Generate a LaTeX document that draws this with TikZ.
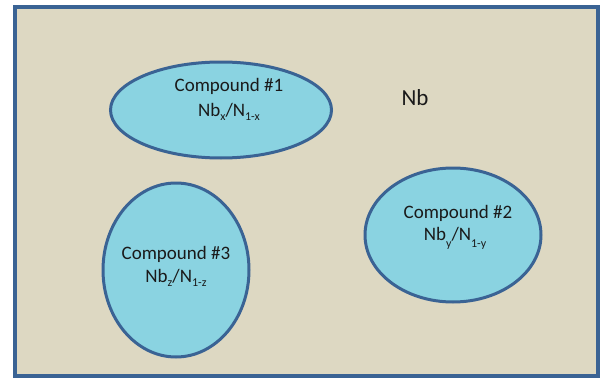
\documentclass[tikz,border=0pt]{standalone}
\usepackage{fontspec}
\setmainfont{Carlito}
\usetikzlibrary{shapes.geometric}
\definecolor{bg}{HTML}{DDD8C2}
\definecolor{fillc}{HTML}{8AD3E1}
\definecolor{edge}{HTML}{3A6394}
\definecolor{txt}{HTML}{1A1A1A}
\newcommand{\sbx}[1]{\raisebox{-3.5pt}{\fontsize{12}{12}\selectfont #1}}
\newcommand{\sby}[1]{\raisebox{-7pt}{\fontsize{12}{12}\selectfont #1}}
\tikzset{
  comp/.style={ellipse, draw=edge, line width=3pt, fill=fillc, inner sep=0pt},
  lbl/.style={text=txt, font=\fontsize{19}{22}\selectfont, inner sep=0pt, anchor=center}
}
\begin{document}
\begin{tikzpicture}[x=1pt,y=-1pt]
\useasboundingbox (0,0) rectangle (600,380);
\draw[draw=edge, line width=4pt, fill=bg] (15,7) rectangle (598,376);
\node[comp, minimum width=221pt, minimum height=96pt] (e1) at (221,110) {};
\node[comp, minimum width=176pt, minimum height=134pt] (e2) at (453,235) {};
\node[comp, minimum width=146pt, minimum height=174pt] (e3) at (176,270) {};
\node[lbl] (t1a) at (229,86) {Compound \#1};
\node[lbl] (t1b) at (229,112) {Nb\sbx{x}/N\sbx{1-x}};
\node[lbl] (t2a) at (458,213) {Compound \#2};
\node[lbl] (t2b) at (455,238) {Nb\sby{y}/N\sby{1-y}};
\node[lbl] (t3a) at (176,254) {Compound \#3};
\node[lbl] (t3b) at (176,278) {Nb\sbx{z}/N\sbx{1-z}};
\node[text=txt, font=\fontsize{23}{26}\selectfont, inner sep=0pt] (nb) at (415,98) {Nb};
\end{tikzpicture}
\end{document}
